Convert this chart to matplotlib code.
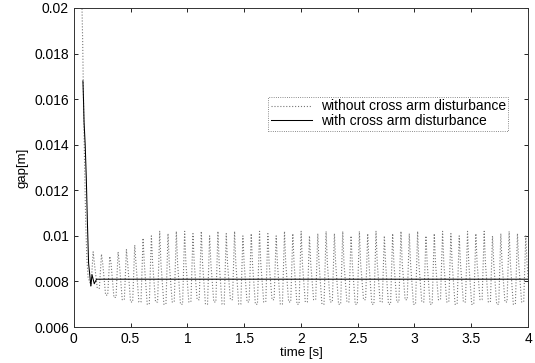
import numpy as np
import matplotlib
matplotlib.use("Agg")
import matplotlib.pyplot as plt

plt.rcParams['font.family'] = ['Liberation Sans', 'DejaVu Sans']

# without cross arm disturbance: start section then one peak / trough per cycle
start_t = [0.0, 0.072, 0.078, 0.085, 0.095, 0.105, 0.115, 0.125]
start_v = [0.0200, 0.0200, 0.0185, 0.0160, 0.0130, 0.0105, 0.0090, 0.0082]
peaks = [0.0093, 0.0092, 0.0091, 0.0093, 0.0094, 0.0096, 0.0099, 0.0100, 0.0102, 0.0101,
         0.0102, 0.0102, 0.0101, 0.0102, 0.0100, 0.0102, 0.0101, 0.0102, 0.0100, 0.0101,
         0.0102, 0.0101, 0.0100, 0.0102, 0.0101, 0.0102, 0.0100, 0.0101, 0.0102, 0.0101,
         0.0102, 0.0100, 0.0102, 0.0101, 0.0102, 0.0100, 0.0101, 0.0102, 0.0101, 0.0102,
         0.0100, 0.0101, 0.0102, 0.0101, 0.0100, 0.0102, 0.0101, 0.0102, 0.0100, 0.0101,
         0.0102, 0.0101, 0.0100]
troughs = [0.0077, 0.0074, 0.0073, 0.0072, 0.0071, 0.0071, 0.0070, 0.0071, 0.0070, 0.0071,
           0.0070, 0.0071, 0.0072, 0.0070, 0.0071, 0.0070, 0.0072, 0.0070, 0.0071, 0.0070,
           0.0071, 0.0072, 0.0070, 0.0071, 0.0070, 0.0071, 0.0072, 0.0070, 0.0071, 0.0070,
           0.0071, 0.0070, 0.0072, 0.0070, 0.0071, 0.0070, 0.0071, 0.0072, 0.0070, 0.0071,
           0.0070, 0.0072, 0.0071, 0.0070, 0.0071, 0.0070, 0.0072, 0.0071, 0.0070, 0.0071,
           0.0070, 0.0071, 0.0072]
shoulder = 0.0088

# with cross arm disturbance
with_t = [0.08, 0.085, 0.09, 0.10, 0.11, 0.12, 0.13, 0.14, 0.15, 0.16, 0.18, 0.20, 0.25, 0.5, 1.0, 2.0, 3.0, 4.0]
with_v = [0.0168, 0.0160, 0.0150, 0.0140, 0.0125, 0.0105, 0.0088, 0.0083, 0.0078, 0.0083, 0.0079, 0.0081,
          0.0081, 0.0081, 0.0081, 0.0081, 0.0081, 0.0081]

# build the oscillating trace
n = len(peaks)
cyc = np.linspace(0.17, 3.98, n)
half = (cyc[1] - cyc[0]) / 2
t1 = list(start_t)
v1 = list(start_v)
for i in range(n):
    t1 += [cyc[i] - half * 0.5, cyc[i], cyc[i] + half * 0.3, cyc[i] + half]
    v1 += [troughs[i - 1] if i else 0.0078, peaks[i], shoulder, troughs[i]]

fig = plt.figure(figsize=(5.35, 3.63), dpi=100)
ax = fig.add_axes([0.138, 0.099, 0.849, 0.879])
ax.plot(t1, v1, ':', color='#777777', lw=0.8, label='without cross arm disturbance')
ax.plot(with_t, with_v, '-', color='black', lw=0.75, label='with cross arm disturbance')

ax.set_xlim(0, 4)
ax.set_ylim(0.006, 0.02)
ax.set_xticks(np.arange(0, 4.01, 0.5))
ax.set_xticklabels(['0', '0.5', '1', '1.5', '2', '2.5', '3', '3.5', '4'])
ax.set_yticks([0.006, 0.008, 0.01, 0.012, 0.014, 0.016, 0.018, 0.02])
ax.set_yticklabels(['0.006', '0.008', '0.01', '0.012', '0.014', '0.016', '0.018', '0.02'])
ax.tick_params(direction='in', length=3, width=0.6, labelsize=10, top=True, right=True)
for s in ax.spines.values():
    s.set_linewidth(0.7)
    s.set_color('#333333')
ax.set_xlabel('time [s]', fontsize=9.5, labelpad=1)
ax.set_ylabel('gap[m]', fontsize=9.5, labelpad=4)

leg = ax.legend(loc='upper left', bbox_to_anchor=(0.427, 0.722), fontsize=10, fancybox=False,
                framealpha=1, handlelength=3.0, borderpad=0.2, labelspacing=0.05, handletextpad=0.6,
                borderaxespad=0)
leg.get_frame().set_edgecolor('#666666')
leg.get_frame().set_linewidth(0.6)
leg.get_frame().set_linestyle(':')

fig.savefig('out.png', dpi=100)
